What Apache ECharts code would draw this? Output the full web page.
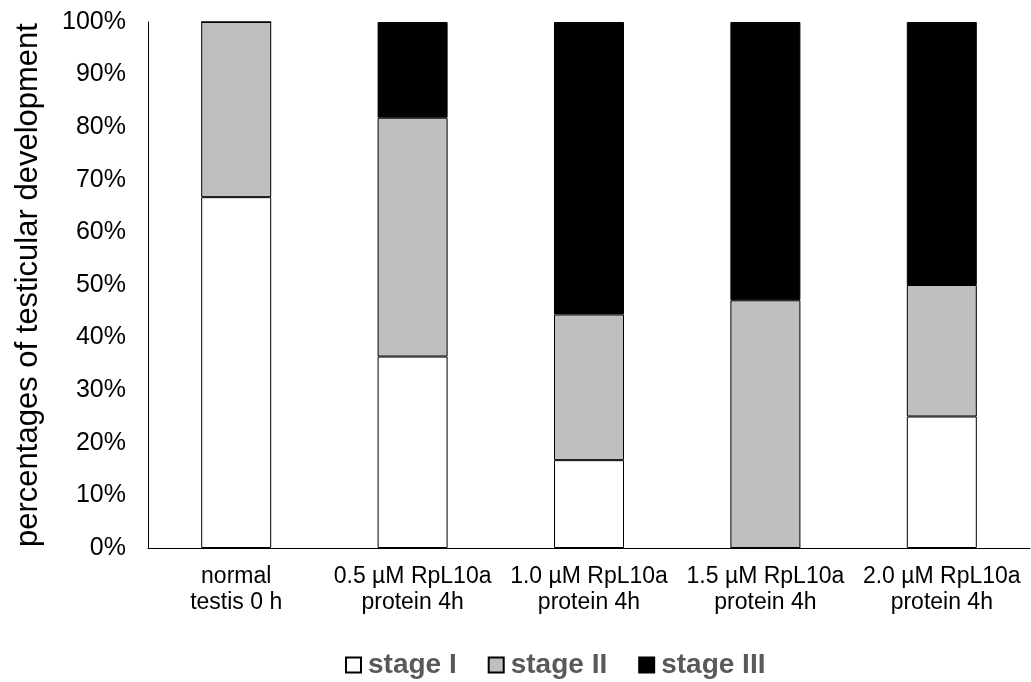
<!DOCTYPE html>
<html><head><meta charset="utf-8">
<script src="https://cdn.jsdelivr.net/npm/echarts@6/dist/echarts.min.js"></script>
<style>html,body{margin:0;padding:0;background:#fff}#c{width:1031px;height:682px}</style>
</head><body><div id="c"></div>
<script>
const categories = ['normal\ntestis 0 h', '0.5 µM RpL10a\nprotein 4h', '1.0 µM RpL10a\nprotein 4h', '1.5 µM RpL10a\nprotein 4h', '2.0 µM RpL10a\nprotein 4h'];
const stageI = [66.7, 36.4, 16.7, 0, 25.0];
const stageII = [33.3, 45.4, 27.7, 47.1, 25.0];
const stageIII = [0, 18.2, 55.6, 52.9, 50.0];
const yTicks = [0, 10, 20, 30, 40, 50, 60, 70, 80, 90, 100];

const chart = echarts.init(document.getElementById('c'));
const font = 'Liberation Sans, Arial, sans-serif';
function mk(name, data, color) {
  return {name, type: 'bar', stack: 's', data, barWidth: 70,
    itemStyle: {color, borderColor: '#000', borderWidth: 1}};
}
chart.setOption({
  animation: false,
  textStyle: {fontFamily: font},
  grid: {left: 148, right: 1, top: 22, bottom: 134, containLabel: false},
  legend: {
    top: 646, left: 340, itemWidth: 15, itemHeight: 15, itemGap: 31,
    icon: 'rect',
    textStyle: {fontSize: 28, fontWeight: 'bold', color: '#595959', fontFamily: font, padding: [0, 0, 0, 2]},
    data: ['stage I', 'stage II', 'stage III']
  },
  xAxis: {
    type: 'category', data: categories,
    axisLine: {lineStyle: {color: '#000', width: 1}},
    axisTick: {show: false},
    axisLabel: {color: '#000', fontSize: 23, lineHeight: 26, margin: 16, interval: 0, fontFamily: font}
  },
  yAxis: {
    type: 'value', min: 0, max: 100, interval: 10,
    name: 'percentages of testicular development', nameLocation: 'middle', nameGap: 104,
    nameTextStyle: {fontSize: 31, color: '#000', fontFamily: font},
    axisLine: {show: true, lineStyle: {color: '#000', width: 1}},
    axisTick: {show: false},
    splitLine: {show: false},
    axisLabel: {color: '#000', fontSize: 25, margin: 22, fontFamily: font,
      formatter: v => yTicks.includes(v) ? v + '%' : ''}
  },
  series: [
    mk('stage I', stageI, '#ffffff'),
    mk('stage II', stageII, '#bfbfbf'),
    mk('stage III', stageIII, '#000000')
  ]
});
</script></body></html>
